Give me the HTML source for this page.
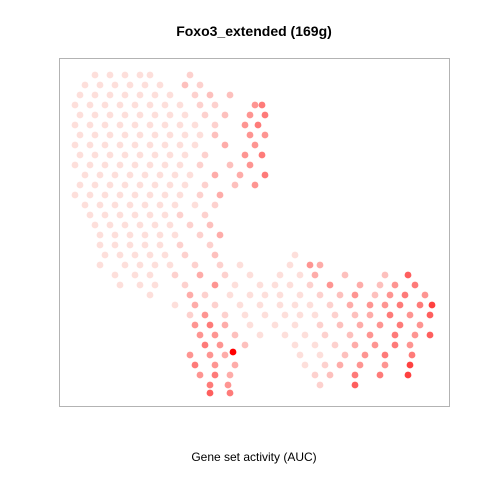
<!DOCTYPE html>
<html><head><meta charset="utf-8"><style>
body{margin:0;background:#fff;font-family:"Liberation Sans",sans-serif}
svg{display:block}
</style></head><body>
<svg id="chart" width="480" height="480">
<rect x="0" y="0" width="480" height="480" fill="#fff"/>
<text x="254" y="36" text-anchor="middle" font-size="14" font-weight="bold">Foxo3_extended (169g)</text>
<rect x="59.5" y="58.5" width="390" height="348" fill="none" stroke="#b3b3b3" stroke-width="1"/>
<g id="points"></g>
<text x="254" y="461" text-anchor="middle" font-size="12">Gene set activity (AUC)</text>
</svg>
<script>
const rowY = [75,85,95,105,115,125,135,145,155,165,175,185,195,205,215,225,235,245,255,265,275,285,295,305,315,325,335,345,352,355,365,375,385,393];
const rowX = [
[95,110,125,140,150,190],
[85,100,115,130,145,160,185,200],
[80,95,110,125,140,155,170,195,210,230],
[75,90,105,120,135,150,165,180,200,215,255,262],
[80,95,110,125,140,155,170,185,205,225,250,265],
[75,90,105,120,135,150,165,180,195,215,245,258],
[80,95,110,125,140,155,170,185,200,215,250,265],
[75,90,105,120,135,150,165,180,195,225,255],
[80,95,110,125,140,155,170,185,205,245,262],
[75,90,105,120,135,150,165,180,200,230,250],
[85,100,115,130,145,160,175,190,215,240,265],
[80,95,110,125,140,155,170,185,205,235,255],
[75,90,105,120,135,150,165,180,200,220],
[85,100,115,130,145,160,175,195,215],
[90,105,120,135,150,165,180,205],
[95,110,125,140,155,170,190,210],
[100,115,130,145,160,175,200,220],
[100,115,130,145,160,180,210],
[105,120,135,150,165,185,215,295],
[100,125,140,155,170,195,220,240,290,310,320],
[115,135,150,175,200,225,250,280,300,315,345,385,408],
[120,140,155,185,215,235,260,275,290,310,330,360,380,395,415],
[150,190,205,230,250,265,280,300,320,340,355,375,390,405,425],
[175,195,215,240,260,280,295,310,330,350,370,385,400,420,432],
[190,205,225,245,265,285,300,315,335,355,370,390,410,430],
[195,210,225,250,275,295,320,340,360,380,400,420],
[200,215,235,260,285,305,325,350,370,395,415,430],
[205,220,245,295,315,335,355,375,395,410],
[233],
[190,210,225,300,320,345,365,385,412],
[195,215,235,305,325,340,360,385,410],
[200,215,230,315,330,355,380,408],
[210,228,320,355],
[210,230]
];
const rowAUC = [
[.1,.1,.1,.1,.1,.2],
[.1,.1,.1,.1,.1,.1,.3,.2],
[.1,.1,.1,.1,.1,.1,.1,.2,.3,.3],
[.1,.1,.1,.1,.1,.1,.1,.1,.2,.2,.5,.6],
[.1,.1,.1,.1,.1,.1,.1,.1,.2,.3,.5,.6],
[.1,.1,.1,.1,.1,.1,.1,.1,.1,.2,.5,.6],
[.1,.1,.1,.1,.1,.1,.1,.1,.1,.3,.5,.5],
[.1,.1,.1,.1,.1,.1,.1,.1,.1,.4,.5],
[.1,.1,.1,.1,.1,.1,.1,.1,.2,.5,.6],
[.1,.1,.1,.1,.1,.1,.1,.1,.2,.3,.5],
[.1,.1,.1,.1,.1,.1,.1,.1,.4,.4,.6],
[.1,.1,.1,.1,.1,.1,.1,.1,.2,.3,.5],
[.1,.1,.1,.1,.1,.1,.1,.1,.2,.4],
[.1,.1,.1,.1,.1,.1,.1,.1,.2],
[.1,.1,.1,.1,.1,.1,.2,.2],
[.1,.1,.1,.1,.1,.1,.2,.3],
[.1,.1,.1,.1,.1,.1,.2,.4],
[.1,.1,.1,.1,.1,.2,.2],
[.1,.1,.1,.1,.1,.2,.3,.1],
[.1,.1,.1,.1,.1,.2,.2,.1,.1,.5,.4],
[.1,.1,.1,.2,.4,.2,.1,.1,.1,.4,.3,.3,.7],
[.1,.1,.1,.2,.5,.1,.1,.1,.1,.2,.5,.4,.3,.5,.6],
[.1,.4,.2,.1,.1,.1,.1,.1,.2,.3,.5,.3,.5,.6,.5],
[.1,.4,.2,.1,.1,.1,.1,.1,.2,.4,.5,.5,.6,.6,.8],
[.2,.5,.2,.1,.1,.1,.1,.1,.2,.3,.4,.6,.5,.7],
[.5,.6,.4,.1,.1,.1,.2,.3,.4,.5,.6,.5],
[.5,.5,.3,.1,.1,.1,.2,.3,.5,.6,.5,.7],
[.6,.5,.3,.1,.1,.2,.4,.5,.6,.5],
[1.0],
[.5,.5,.4,.1,.1,.3,.5,.6,.6],
[.6,.5,.4,.1,.2,.4,.5,.5,.8],
[.5,.6,.4,.2,.3,.6,.6,.8],
[.6,.5,.2,.7],
[.7,.6]
];
const xDomain=[0,480], yDomain=[0,480];
function xScale(v){return (v-xDomain[0])/(xDomain[1]-xDomain[0])*480;}
function yScale(v){return (v-yDomain[0])/(yDomain[1]-yDomain[0])*480;}
function color(a){
  const t=Math.pow(a,1.5);
  const lo=[253,230,226], hi=[255,0,0];
  const c=lo.map((l,i)=>Math.round(l+(hi[i]-l)*t));
  return 'rgb('+c.join(',')+')';
}
const g=document.getElementById('points');
const NS='http://www.w3.org/2000/svg';
rowY.forEach((y,r)=>{
  rowX[r].forEach((x,i)=>{
    const c=document.createElementNS(NS,'circle');
    c.setAttribute('cx',xScale(x));
    c.setAttribute('cy',yScale(y));
    c.setAttribute('r',3.4);
    c.setAttribute('fill',color(rowAUC[r][i]));
    
    
    g.appendChild(c);
  });
});
</script>
</body></html>
